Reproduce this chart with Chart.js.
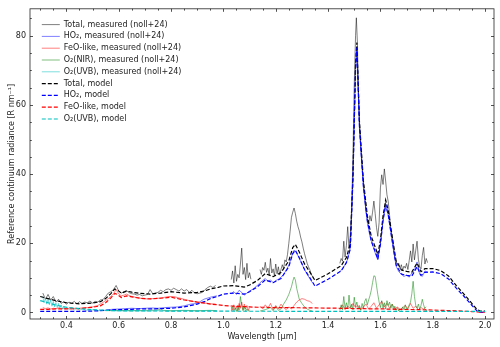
<!DOCTYPE html>
<html>
<head>
<meta charset="utf-8">
<script src="https://cdn.jsdelivr.net/npm/chart.js@4.4.1/dist/chart.umd.min.js"></script>
<style>
  html, body { margin: 0; padding: 0; background: #fff; }
  #wrap { width: 500px; height: 347px; }
</style>
</head>
<body>
<div id="wrap"><canvas id="c" width="500" height="347"></canvas></div>
<script>
// ---- data ----
var xTicks = [0.4, 0.6, 0.8, 1.0, 1.2, 1.4, 1.6, 1.8, 2.0];
var yTicks = [0, 20, 40, 60, 80];

var seriesNames = [
  'Total, measured (noll+24)',
  'HO\u2082, measured (noll+24)',
  'FeO-like, measured (noll+24)',
  'O\u2082(NIR), measured (noll+24)',
  'O\u2082(UVB), measured (noll+24)',
  'Total, model',
  'HO\u2082, model',
  'FeO-like, model',
  'O\u2082(UVB), model'
];

// model curves share one wavelength grid
var modelWl = [0.30,0.33,0.36,0.40,0.45,0.50,0.53,0.55,0.57,0.585,0.595,0.61,0.63,0.65,0.68,0.72,0.76,0.80,0.85,0.90,
  0.93,0.95,0.98,1.00,1.04,1.08,1.10,1.13,1.16,1.19,1.22,1.25,1.265,1.275,1.29,1.31,1.33,1.35,1.40,1.45,
  1.47,1.485,1.495,1.505,1.51,1.52,1.535,1.55,1.565,1.58,1.59,1.60,1.61,1.62,1.63,1.645,1.66,1.68,1.70,1.72,
  1.74,1.755,1.77,1.80,1.83,1.86,1.89,1.92,1.95,1.97,1.98,2.00];
var totalModel = [4.6,4.0,3.4,2.8,2.5,2.7,3.1,4.0,5.45,6.8,6.5,5.58,6.16,5.85,5.54,5.32,5.61,6.0,5.59,5.78,
  6.27,6.77,7.26,7.65,7.75,7.34,7.94,9.24,11.24,10.34,11.53,14.93,18.73,19.68,17.48,14.03,11.73,9.23,11.17,13.52,
  15.87,19.87,39.82,71.82,78.02,55.02,38.02,27.96,21.96,18.91,16.71,20.91,27.91,32.51,29.46,21.96,14.91,12.3,11.85,11.65,
  14.3,11.8,12.65,12.7,12.1,10.55,7.75,5.25,2.55,0.8,0.45,0.35];
var ho2Model = [0.3,0.3,0.3,0.3,0.3,0.4,0.5,0.6,0.7,0.8,0.8,0.8,0.9,0.9,1.0,1.0,1.1,1.2,1.6,2.4,
  3.2,4.0,4.7,5.3,5.6,5.3,6.0,7.4,9.4,8.6,9.8,13.2,17.0,18.0,15.8,12.4,10.1,7.6,9.6,12.0,
  14.4,18.4,38.4,70.4,76.6,53.6,36.6,26.6,20.6,17.6,15.4,19.6,26.6,31.2,28.2,20.7,13.7,11.1,10.7,10.5,
  13.2,10.7,11.6,11.7,11.2,9.7,7.0,4.6,2.0,0.35,0.05,0.0];
var feoModel = [0.9,0.9,1.0,1.0,1.1,1.5,1.9,2.8,4.2,5.5,5.2,4.3,4.8,4.5,4.1,3.9,4.1,4.4,3.6,3.0,
  2.7,2.4,2.2,2.0,1.8,1.7,1.6,1.5,1.5,1.4,1.4,1.4,1.4,1.35,1.35,1.3,1.3,1.3,1.25,1.2,
  1.15,1.15,1.1,1.1,1.1,1.1,1.1,1.05,1.05,1.0,1.0,1.0,1.0,1.0,0.95,0.95,0.9,0.9,0.85,0.85,
  0.8,0.8,0.75,0.7,0.6,0.55,0.45,0.35,0.25,0.15,0.1,0.05];
var o2uvbModel = [3.4,2.8,2.1,1.5,1.1,0.8,0.7,0.6,0.55,0.5,0.5,0.48,0.46,0.45,0.44,0.42,0.41,0.4,0.39,0.38,
  0.37,0.37,0.36,0.35,0.35,0.34,0.34,0.34,0.34,0.34,0.33,0.33,0.33,0.33,0.33,0.33,0.33,0.33,0.32,0.32,
  0.32,0.32,0.32,0.32,0.32,0.32,0.32,0.31,0.31,0.31,0.31,0.31,0.31,0.31,0.31,0.31,0.31,0.3,0.3,0.3,
  0.3,0.3,0.3,0.3,0.3,0.3,0.3,0.3,0.3,0.3,0.3,0.3];

// measured spectra (null = no data)
var totalMeasWl = [0.31,0.32,0.33,0.34,0.35,0.36,0.37,0.38,0.39,0.40,0.41,0.42,0.43,0.44,0.45,0.46,0.47,0.48,0.49,0.50,
  0.51,0.52,0.53,0.54,0.55,0.56,0.57,0.58,0.59,0.60,0.61,0.62,0.63,0.64,0.65,0.66,0.67,0.68,0.69,0.70,
  0.71,0.72,0.73,0.74,0.75,0.76,0.77,0.78,0.79,0.80,0.81,0.82,0.83,0.84,0.85,0.86,0.87,0.88,0.89,0.90,
  0.91,0.92,0.93,0.94,0.95,0.96,0.97,1.0,
  1.03,1.035,1.04,1.045,1.05,1.055,1.06,1.065,1.07,1.075,1.08,1.085,1.09,1.095,1.10,1.105,1.12,
  1.14,1.145,1.15,1.155,1.16,1.165,1.17,1.175,1.18,1.185,1.19,1.195,1.20,1.205,1.21,1.215,1.22,1.225,1.23,1.235,
  1.24,1.245,1.25,1.255,1.26,1.265,1.27,1.275,1.28,1.285,1.29,1.295,1.30,1.305,1.31,1.315,1.32,1.325,1.33,1.335,1.34,1.40,
  1.445,1.45,1.455,1.46,1.465,1.47,1.475,1.48,1.485,1.49,1.495,1.50,1.505,1.508,1.512,1.515,1.52,1.525,1.53,1.535,
  1.54,1.545,1.55,1.555,1.56,1.565,1.57,1.575,1.58,1.585,1.59,1.595,1.60,1.605,1.61,1.615,1.62,1.625,1.63,1.635,
  1.64,1.645,1.65,1.655,1.66,1.665,1.67,1.675,1.68,1.685,1.69,1.695,1.70,1.705,1.71,1.715,1.72,1.725,1.73,1.735,
  1.74,1.745,1.75,1.755,1.76,1.765,1.77,1.775,1.78];
var totalMeas = [5.6,3.8,5.2,3.6,4.6,3.0,3.8,2.6,3.1,2.4,3.0,2.6,3.2,2.5,3.1,2.6,3.0,2.8,3.3,2.7,
  3.2,3.0,3.6,3.7,4.6,5.6,6.0,6.6,7.8,6.2,5.6,6.0,6.3,5.7,5.4,5.3,5.0,5.2,4.8,5.0,
  5.2,6.6,5.4,5.6,5.8,6.4,6.0,6.6,6.8,6.4,7.0,6.6,6.2,6.8,6.2,6.6,5.8,6.4,5.6,5.4,
  5.6,5.8,6.6,7.2,7.6,7.2,7.8,null,
  9.5,12.0,8.5,13.5,9.0,11.0,10.0,14.0,18.6,11.0,13.0,9.5,14.2,10.0,11.5,9.6,null,
  12.4,11.0,13.0,12.2,14.5,11.6,12.8,10.8,15.6,11.4,12.6,10.6,14.0,11.2,13.2,10.8,12.4,13.8,12.6,15.2,
  14.6,16.8,20.0,23.5,27.5,29.0,30.2,28.6,26.4,24.8,23.6,21.8,20.4,18.6,17.0,15.6,14.2,13.2,12.4,11.2,10.4,null,
  14.2,15.6,14.8,20.6,16.0,19.4,24.8,18.6,22.4,30.0,45.0,66.0,80.0,85.2,78.0,66.0,55.0,48.0,42.0,38.0,
  33.0,29.0,27.0,25.6,28.0,26.4,29.0,32.2,28.6,24.6,22.0,26.0,36.0,39.8,37.0,41.5,38.0,34.0,32.0,28.0,
  24.0,22.0,19.0,15.6,14.8,13.6,14.2,12.6,13.8,12.2,13.4,12.8,14.2,12.4,15.0,17.8,14.6,19.8,15.2,18.0,
  20.6,15.4,13.2,12.6,16.4,18.8,14.0,15.6,14.4];

var ho2MeasWl = [0.55,0.575,0.60,0.625,0.65,0.675,0.70,0.725,0.75,0.775,0.80,0.825,0.85,0.875,0.90,0.925,0.95,0.975,1.0,
  1.03,1.04,1.05,1.06,1.07,1.08,1.09,1.10,1.11,1.12,1.13,1.14,1.15,1.16,1.17,1.18,1.19,1.20,1.21,1.22,
  1.23,1.24,1.25,1.26,1.27,1.28,1.29,1.30,1.31,1.32,1.33,1.34,1.40,
  1.445,1.455,1.465,1.475,1.485,1.495,1.505,1.51,1.52,1.535,1.55,1.56,1.57,1.58,1.59,1.60,1.61,1.62,1.63,1.64,
  1.65,1.66,1.67,1.68,1.69,1.70,1.71,1.72,1.73,1.74,1.75,1.76,1.77,1.78];
var ho2Meas = [0.7,0.9,1.0,1.1,1.2,1.1,1.2,1.3,1.2,1.4,1.5,1.6,1.9,2.4,2.6,3.8,4.4,4.8,null,
  5.4,6.0,5.2,6.4,5.8,5.0,5.6,6.2,6.6,7.2,7.8,8.6,9.2,9.8,9.0,9.4,8.6,9.2,9.6,10.2,
  11.0,12.2,13.6,16.0,18.0,17.2,15.6,14.0,12.4,11.0,9.8,8.6,null,
  11.8,12.6,13.8,15.4,18.6,38.0,70.0,76.0,53.0,36.0,26.0,22.0,19.6,17.2,15.2,19.8,26.4,31.0,28.0,23.0,
  18.0,13.4,11.8,11.0,10.4,10.8,10.2,11.4,12.2,14.6,11.0,10.4,12.0,11.6];

var feoMeasWl = [0.31,0.32,0.33,0.34,0.35,0.36,0.37,0.38,0.39,0.40,0.42,0.44,0.46,0.48,0.50,0.52,0.54,0.56,0.57,0.58,
  0.59,0.60,0.61,0.62,0.63,0.64,0.65,0.67,0.69,0.71,0.73,0.75,0.77,0.79,0.81,0.83,0.85,0.87,0.89,0.91,
  0.93,0.95,0.97,1.0,
  1.03,1.035,1.04,1.045,1.05,1.055,1.06,1.065,1.07,1.075,1.08,1.085,1.09,1.095,1.10,1.12,
  1.14,1.15,1.16,1.17,1.18,1.19,1.20,1.21,1.22,1.23,1.24,1.25,1.26,1.27,1.28,1.29,1.30,1.31,1.32,1.33,1.34,1.40,
  1.445,1.455,1.465,1.475,1.485,1.495,1.505,1.515,1.525,1.535,1.545,1.555,1.565,1.575,1.585,1.595,1.605,1.615,1.625,1.635,
  1.645,1.655,1.665,1.675,1.685,1.695,1.705,1.715,1.725,1.735,1.745,1.755,1.765,1.775];
var feoMeas = [1.4,1.1,1.3,1.0,1.2,1.1,1.3,1.0,1.2,1.1,1.3,1.1,1.3,1.4,1.6,2.0,2.9,4.0,4.6,5.4,
  6.6,5.4,4.8,5.0,5.3,4.9,4.6,4.3,4.0,3.9,4.0,4.1,4.3,4.6,4.6,4.2,3.8,3.4,3.1,2.9,
  2.7,2.5,2.4,null,
  1.6,0.6,2.2,0.9,1.8,0.4,2.6,1.2,3.0,0.8,2.4,1.0,2.0,0.6,1.4,null,
  1.8,1.0,2.2,1.2,2.6,0.8,2.0,1.0,2.4,1.4,0.8,1.6,1.0,2.0,3.0,3.6,4.0,3.8,3.4,3.2,2.6,null,
  1.0,2.2,0.8,1.8,1.2,2.6,1.4,2.0,0.8,1.6,2.4,1.0,1.8,2.8,1.2,2.2,3.2,1.6,2.6,1.2,
  2.4,1.0,1.6,0.8,1.4,2.0,1.0,2.6,1.2,1.8,0.8,1.4,1.0,1.6];

var o2nirMeasWl = [0.55,0.60,0.65,0.70,0.75,0.76,0.77,0.80,0.85,0.90,0.95,0.975,1.0,
  1.03,1.035,1.04,1.045,1.05,1.055,1.06,1.065,1.07,1.075,1.08,1.085,1.09,1.095,1.10,1.12,
  1.14,1.16,1.18,1.19,1.20,1.21,1.22,1.23,1.24,1.25,1.26,1.265,1.27,1.275,1.28,1.285,1.29,1.30,1.31,1.32,1.33,1.34,1.40,
  1.445,1.45,1.455,1.46,1.465,1.47,1.475,1.48,1.485,1.49,1.495,1.50,1.505,1.51,1.515,1.52,1.525,1.53,1.535,1.54,
  1.545,1.55,1.555,1.56,1.565,1.57,1.575,1.58,1.585,1.59,1.595,1.60,1.605,1.61,1.615,1.62,1.625,1.63,1.635,1.64,
  1.645,1.65,1.655,1.66,1.665,1.67,1.675,1.68,1.685,1.69,1.695,1.70,1.705,1.71,1.715,1.72,1.725,1.73,1.735,1.74,
  1.745,1.75,1.755,1.76,1.765,1.77,1.775,1.78];
var o2nirMeas = [0.5,0.6,0.5,0.6,0.7,1.0,0.6,0.5,0.6,0.5,0.6,0.5,null,
  0.4,1.8,0.5,1.2,0.3,2.0,0.6,4.6,2.0,0.5,1.6,0.3,1.0,0.4,0.6,null,
  0.4,0.8,1.4,0.5,1.8,0.6,1.0,2.4,3.6,5.2,7.4,9.0,10.2,9.4,7.0,5.4,3.8,2.6,1.6,1.0,0.6,0.4,null,
  0.6,2.2,0.8,4.6,1.2,2.8,1.0,5.0,1.4,2.4,0.8,4.4,1.6,3.0,1.0,2.0,0.6,2.6,1.2,3.2,
  4.0,2.2,3.6,4.8,6.4,8.6,10.6,10.4,7.8,5.2,3.0,1.4,3.4,1.2,2.8,1.0,3.4,2.0,3.0,1.2,
  2.4,0.8,1.8,0.6,1.4,0.4,1.0,0.6,1.6,0.8,2.2,1.0,1.4,2.2,3.0,5.4,9.0,4.6,2.0,1.2,
  2.4,1.0,2.0,3.8,2.2,1.0,0.6,0.4];

var o2uvbMeasWl = [0.31,0.315,0.32,0.325,0.33,0.335,0.34,0.345,0.35,0.355,0.36,0.365,0.37,0.375,0.38,0.385,0.39,0.395,0.40,0.41,
  0.42,0.43,0.44,0.45,0.46,0.48,0.50,0.52,0.55,0.60,0.65,0.70,0.75,0.80,0.85,0.90,0.95,0.975];
var o2uvbMeas = [4.6,2.8,4.2,2.4,3.8,2.2,3.6,1.8,3.2,1.6,2.8,1.4,2.6,1.2,2.2,1.0,1.8,0.9,1.6,0.8,
  1.4,0.7,1.2,0.6,1.0,0.6,0.8,0.5,0.6,0.4,0.5,0.4,0.5,0.4,0.5,0.4,0.5,0.4];

// ---- chart ----
function pts(xs, ys) {
  return xs.map(function (x, i) { return { x: x, y: ys[i] }; });
}

var measColors = ['rgba(0,0,0,0.5)', 'rgba(0,0,255,0.5)', 'rgba(255,0,0,0.5)', 'rgba(0,128,0,0.5)', 'rgba(0,191,191,0.5)'];
var modelColors = ['#000000', '#0000ff', '#ff0000', '#00bfbf'];

var allSeries = [
  pts(totalMeasWl, totalMeas), pts(ho2MeasWl, ho2Meas), pts(feoMeasWl, feoMeas),
  pts(o2nirMeasWl, o2nirMeas), pts(o2uvbMeasWl, o2uvbMeas),
  pts(modelWl, totalModel), pts(modelWl, ho2Model), pts(modelWl, feoModel), pts(modelWl, o2uvbModel)
];

var datasets = allSeries.map(function (d, i) {
  var isModel = i >= 5;
  return {
    label: seriesNames[i],
    data: d,
    borderColor: isModel ? modelColors[i - 5] : measColors[i],
    backgroundColor: isModel ? modelColors[i - 5] : measColors[i],
    borderWidth: isModel ? 1.2 : 1,
    borderDash: isModel ? [4, 2] : [],
    pointRadius: 0,
    tension: 0,
    spanGaps: false,
    order: 10 - i
  };
});

var frameTicks = {
  id: 'frameTicks',
  beforeDraw: function (chart) {
    // legend sits inside the axes, upper left
    var a = chart.chartArea;
    chart.legend.left = a.left + 8;
    chart.legend.top = a.top + 8;
  },
  afterDraw: function (chart) {
    var ctx = chart.ctx, a = chart.chartArea;
    var xs = chart.scales.x, ys = chart.scales.y;
    ctx.save();
    ctx.strokeStyle = '#262626';
    ctx.lineWidth = 0.8;
    ctx.setLineDash([]);
    ctx.beginPath();
    var k, v, p, len;
    for (k = Math.ceil(xs.min / 0.05); k * 0.05 <= xs.max; k++) {
      v = k * 0.05;
      p = Math.round(xs.getPixelForValue(v)) + 0.5;
      len = (k % 4 === 0) ? 3 : 1.8;
      ctx.moveTo(p, a.bottom); ctx.lineTo(p, a.bottom - len);
      ctx.moveTo(p, a.top); ctx.lineTo(p, a.top + len);
    }
    for (k = Math.ceil(ys.min / 5); k * 5 <= ys.max; k++) {
      v = k * 5;
      p = Math.round(ys.getPixelForValue(v)) + 0.5;
      len = (k % 4 === 0) ? 3 : 1.8;
      ctx.moveTo(a.left, p); ctx.lineTo(a.left + len, p);
      ctx.moveTo(a.right, p); ctx.lineTo(a.right - len, p);
    }
    ctx.stroke();
    ctx.strokeRect(a.left, a.top, a.right - a.left, a.bottom - a.top);
    ctx.restore();
  }
};

Chart.defaults.font.family = '"DejaVu Sans", sans-serif';
Chart.defaults.color = '#222';

new Chart(document.getElementById('c'), {
  type: 'line',
  data: { datasets: datasets },
  options: {
    responsive: false,
    animation: false,
    layout: { padding: { top: 5, right: 6, left: 0, bottom: 0 } },
    plugins: {
      tooltip: { enabled: false },
      legend: {
        position: 'chartArea',
        align: 'start',
        labels: {
          usePointStyle: true,
          pointStyle: 'line',
          pointStyleWidth: 18,
          padding: 3.8,
          color: '#222',
          font: { size: 8 },
          sort: function (a, b) { return a.datasetIndex - b.datasetIndex; },
          generateLabels: function (chart) {
            var items = Chart.defaults.plugins.legend.labels.generateLabels(chart);
            items.forEach(function (it) {
              var ds = chart.data.datasets[it.datasetIndex];
              it.lineDash = ds.borderDash;
              it.lineWidth = ds.borderWidth;
              it.strokeStyle = ds.borderColor;
            });
            return items;
          }
        }
      }
    },
    scales: {
      x: {
        type: 'linear',
        min: 0.261,
        max: 2.034,
        afterBuildTicks: function (s) { s.ticks = xTicks.map(function (v) { return { value: v }; }); },
        afterFit: function (s) { s.height = 28; },
        grid: { display: false, drawTicks: false },
        border: { display: false },
        ticks: {
          padding: 2,
          maxRotation: 0,
          autoSkip: false,
          font: { size: 8 },
          callback: function (v) { return Number(v).toFixed(1); }
        },
        title: { display: true, text: 'Wavelength [\u00b5m]', font: { size: 8 }, padding: { top: 0, bottom: 5 } }
      },
      y: {
        type: 'linear',
        min: -1.9,
        max: 87.8,
        afterBuildTicks: function (s) { s.ticks = yTicks.map(function (v) { return { value: v }; }); },
        afterFit: function (s) { s.width = 30; },
        grid: { display: false, drawTicks: false },
        border: { display: false },
        ticks: {
          padding: 4,
          autoSkip: false,
          font: { size: 8 },
          callback: function (v) { return String(v); }
        },
        title: { display: true, text: 'Reference continuum radiance [R nm\u207b\u00b9]', font: { size: 8 }, padding: { top: 7, bottom: 0 } }
      }
    }
  },
  plugins: [frameTicks]
});
</script>
</body>
</html>
